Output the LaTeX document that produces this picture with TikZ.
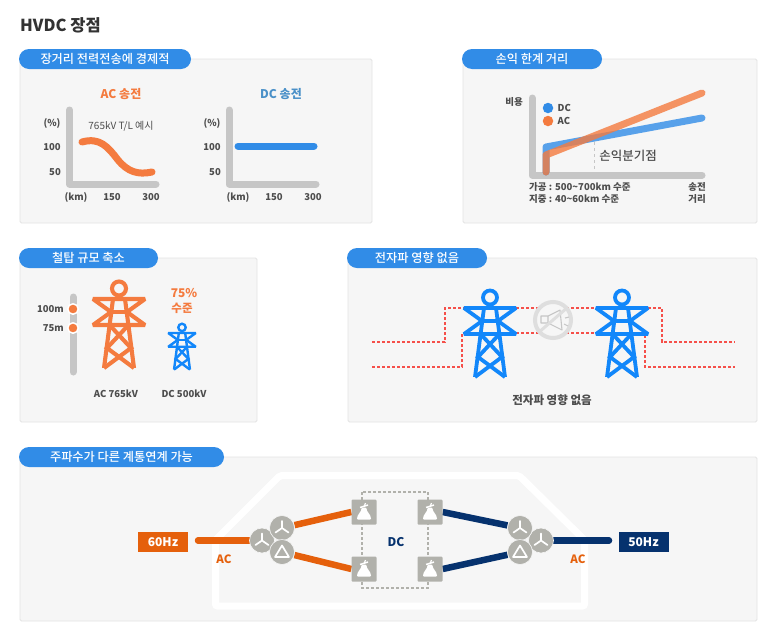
\documentclass[tikz,border=0pt]{standalone}
\usepackage{fontspec}
\setmainfont{Noto Sans CJK KR}
\newfontfamily\medfont{Noto Sans CJK KR Medium}
\usetikzlibrary{positioning}

\definecolor{pillblue}{HTML}{318CE7}
\definecolor{acorange}{HTML}{F47B3F}
\definecolor{dctitle}{HTML}{4A90C8}
\definecolor{towerblue}{HTML}{1287FA}
\definecolor{axisgray}{HTML}{C6C6C6}
\definecolor{paneledge}{HTML}{E4E4E4}
\definecolor{panelfill}{HTML}{F6F6F6}
\definecolor{txtdark}{HTML}{4D4D4D}
\definecolor{busorange}{HTML}{E5600C}
\definecolor{busnavy}{HTML}{06326E}
\definecolor{convgray}{HTML}{B1B1AB}
\definecolor{emfred}{HTML}{F5504A}

\pgfdeclarelayer{bg}
\pgfdeclarelayer{links}
\pgfsetlayers{bg,links,main}

\tikzset{
  panel/.style = {draw=paneledge, fill=panelfill, line width=.8pt, rounded corners=1.5pt, inner sep=0pt},
  pill/.style = {fill=pillblue, text=white, rounded corners=10pt, minimum height=20pt, inner sep=0pt,
    font=\fontsize{12.2}{14}\medfont},
  lab/.style = {text=txtdark, inner sep=0pt, font=\fontsize{9.5}{11}\selectfont\bfseries},
  plain/.style = {text=txtdark, inner sep=0pt, font=\fontsize{10}{12}\selectfont},
  head/.style = {inner sep=0pt, font=\fontsize{12}{14}\selectfont\bfseries},
  axis/.style = {axisgray, line width=7pt, line cap=round, line join=round},
  curve/.style = {line width=7pt, line cap=round, line join=round},
  emf/.style = {emfred, line width=1.5pt, dash pattern=on 3.2pt off 1.8pt},
  freq/.style = {text=white, minimum width=50pt, minimum height=20pt, inner sep=0pt,
    font=\fontsize{12}{14}\selectfont\bfseries},
  bus/.style = {line width=6.5pt, line cap=round},
  xfmr/.style = {circle, fill=convgray, draw=panelfill, line width=.6pt, minimum size=25pt, inner sep=0pt},
  conv/.style = {fill=convgray, rounded corners=1pt, minimum size=25pt, inner sep=0pt},
  hdot/.style = {circle, fill=acorange, draw=white, line width=1.5pt, minimum size=10.5pt, inner sep=0pt},
  tower/.pic = {
    \draw[pic actions] (0,-10.5) circle (7);
    \draw[pic actions, line join=bevel] (-26,0) -- (26,0) -- (8,13) -- (26,26) -- (-26,26) -- (-8,13) -- cycle;
    \draw[pic actions] (-8,13) -- (8,13);
    \draw[pic actions] (-6,0) -- (-15,69);
    \draw[pic actions] (6,0) -- (15,69);
    \draw[pic actions] (-9.5,26) -- (12,49) -- (-15,69);
    \draw[pic actions] (9.5,26) -- (-12,49) -- (15,69);
  },
  wye/.pic = {
    \draw[white, line width=1.7pt, line cap=round] (0,0) -- (0,-7) (0,0) -- (-6.5,4.5) (0,0) -- (6.5,4.5);
  },
  delta/.pic = {
    \draw[white, line width=1.7pt, line join=round] (0,-6.5) -- (7,5) -- (-7,5) -- cycle;
  },
  flask/.pic = {
    \fill[white, rounded corners=1pt] (-7,7.5) -- (7,7.5) .. controls (7,2.5) and (2.5,0) .. (2.5,-4.5)
      -- (-2.5,-4.5) .. controls (-2.5,0) and (-7,2.5) .. (-7,7.5) -- cycle;
    \draw[white, line width=1.5pt] (-4,-4.5) -- (4,-7);
    \draw[white, line width=1.2pt] (0,-5) -- (1.5,-9);
  }
}

\begin{document}
\begin{tikzpicture}[x=1pt, y=-1pt]
  \useasboundingbox (0,0) rectangle (773,643);
  \begin{pgfonlayer}{bg}
    \fill[white] (0,0) rectangle (773,643);
    % panels
    \node[panel, minimum width=352pt, minimum height=164pt] (box1) at (196,141) {};
    \node[panel, minimum width=294pt, minimum height=164pt] (box2) at (610,141) {};
    \node[panel, minimum width=237pt, minimum height=164pt] (box3) at (138.5,340) {};
    \node[panel, minimum width=409pt, minimum height=164pt] (box4) at (552.5,340) {};
    \node[panel, minimum width=737pt, minimum height=164pt] (box5) at (388.5,539) {};
    \draw[white, line width=7pt, rounded corners=2pt] (215.5,540) -- (280,475.5) -- (519,475.5) -- (584.5,540) -- (584.5,606) -- (215.5,606) -- cycle;
    \draw[convgray, line width=1.1pt, dash pattern=on 3pt off 2pt] (362,492) rectangle (428,588);
  \end{pgfonlayer}

  \node[anchor=west, inner sep=0pt, text=black!80, font=\fontsize{16.5}{18}\selectfont\bfseries] (title) at (20,25) {HVDC 장점};

  \node[pill, minimum width=172pt] (tag1) at (105,59) {장거리 전력전송에 경제적};
  \node[pill, minimum width=140pt] (tag2) at (532,59) {손익 한계 거리};
  \node[pill, minimum width=139pt] (tag3) at (88.5,258) {철탑 규모 축소};
  \node[pill, minimum width=140pt] (tag4) at (417,258) {전자파 영향 없음};
  \node[pill, minimum width=205pt] (tag5) at (121.5,457) {주파수가 다른 계통연계 가능};

  % AC and DC charts
  \node[head, text=acorange] (achead) at (121,94) {AC 송전};
  \node[head, text=dctitle] (dchead) at (281,94) {DC 송전};
  \draw[axis] (69.5,110) -- (69.5,184) -- (156,184);
  \draw[axis] (229,110) -- (229,184) -- (316,184);
  \draw[curve, acorange] (82,142) .. controls (100,137) and (108,147) .. (118,160)
    .. controls (128,172) and (138,175) .. (152,172);
  \draw[curve, pillblue] (238,146) -- (314,146);
  \foreach \x/\s in {0/a,160/b} {
    \node[lab] (pct\s) at (52+\x,123) {(\%)};
    \node[lab] (hun\s) at (52+\x,147) {100};
    \node[lab] (fif\s) at (55+\x,172) {50};
  }
  \node[lab] (kma) at (76,197) {(km)};
  \node[lab] (mida) at (112,197) {150};
  \node[lab] (enda) at (151,197) {300};
  \node[lab] (kmb) at (238,197) {(km)};
  \node[lab] (midb) at (274,197) {150};
  \node[lab] (endb) at (313,197) {300};
  \node[plain] (exam) at (121,126) {765kV T/L 예시};

  % break even chart
  \draw[axis] (532,98) -- (532,175) -- (702,175);
  \draw[curve, pillblue, opacity=.8] (546,172) -- (546,147) -- (702,118);
  \draw[curve, acorange, opacity=.8] (546,172) -- (546,155) -- (702,93);
  \draw[axisgray, line width=.9pt, dashed] (594,142) -- (594,172);
  \node[lab] (cost) at (514,102) {비용};
  \node[circle, fill=pillblue, minimum size=10.5pt, inner sep=0pt] (dcdot) at (548,108) {};
  \node[circle, fill=acorange, minimum size=10.5pt, inner sep=0pt] (acdot) at (548,121) {};
  \node[lab, right=4pt of dcdot] {DC};
  \node[lab, right=4pt of acdot] {AC};
  \node[plain, font=\fontsize{12.5}{14}\medfont] (even) at (628,156) {손익분기점};
  \node[lab, anchor=west] (over) at (529,187) {가공 : 500\textasciitilde700km 수준};
  \node[lab, anchor=west] (under) at (529,199) {지중 : 40\textasciitilde60km 수준};
  \node[lab] (sendx) at (697,187) {송전};
  \node[lab] (distx) at (697,199) {거리};

  % tower size
  \draw[axis] (73,297) -- (73,372);
  \node[hdot] (mark1) at (73,309) {};
  \node[hdot] (mark2) at (73,328) {};
  \node[lab, left=3pt of mark1] (h100) {100m};
  \node[lab, left=3pt of mark2] (h75) {75m};
  \pic[draw=acorange, line width=4.1pt] at (119,299) {tower};
  \pic[draw=towerblue, line width=2.4pt, scale=.53] at (182,333) {tower};
  \node[head, text=acorange] (ratio) at (184,293) {75\%};
  \node[head, text=acorange, font=\fontsize{11.5}{15}\selectfont\bfseries] (level) at (182,308) {수준};
  \node[lab] (acv) at (116,394) {AC 765kV};
  \node[lab] (dcv) at (184,394) {DC 500kV};

  % no emf
  \draw[emf] (372,342) -- (445,342) -- (445,308) -- (464,308);
  \draw[emf] (372,367) -- (462,367) -- (462,333) -- (464,333);
  \draw[emf] (516,308) -- (596,308);
  \draw[emf] (516,333) -- (596,333);
  \draw[emf] (648,308) -- (662,308) -- (662,342) -- (735,342);
  \draw[emf] (645,335) -- (645,367) -- (735,367);
  \pic[draw=towerblue, line width=3.8pt] at (490,308) {tower};
  \pic[draw=towerblue, line width=3.8pt] at (622,308) {tower};
  \node[circle, draw=black!13, fill=panelfill, line width=4pt, minimum size=36pt, inner sep=0pt] (mute) at (553,320) {};
  \draw[axisgray, line width=1.1pt, line join=round] (541,316) -- (548,316) -- (560,310) -- (562,330) -- (548,323) -- (541,323) -- cycle
    (548,316) -- (548,323) (565,318) -- (569,317) (564,324) -- (568,326);
  \draw[black!13, line width=3pt] (538,333) -- (568,307);
  \node[head, text=txtdark, font=\fontsize{11.5}{13}\selectfont\bfseries] (nofx) at (552,400) {전자파 영향 없음};

  % back to back link
  \node[freq, fill=busorange] (hz60) at (163,542) {60Hz};
  \node[freq, fill=busnavy] (hz50) at (643.5,542) {50Hz};
  \coordinate (startl) at (198,540.5);
  \coordinate (endr) at (609,540.5);
  \node[xfmr] (wl) at (262,540.5) {};
  \node[xfmr] (yl) at (282,528) {};
  \node[xfmr] (dl) at (282,552) {};
  \node[xfmr] (wr) at (541,540.5) {};
  \node[xfmr] (yr) at (520,528) {};
  \node[xfmr] (dr) at (520,552) {};
  \node[conv] (c1) at (364,512) {};
  \node[conv] (c2) at (364,569) {};
  \node[conv] (c3) at (430,512) {};
  \node[conv] (c4) at (430,569) {};

  \begin{pgfonlayer}{links}
    \draw[bus, busorange] (startl) -- (wl);
    \draw[bus, busnavy] (endr) -- (wr);
    \draw[bus, busorange, line cap=butt] (yl) -- (c1.west);
    \draw[bus, busorange, line cap=butt] (dl) -- (c2.west);
    \draw[bus, busnavy, line cap=butt] (yr) -- (c3.east);
    \draw[bus, busnavy, line cap=butt] (dr) -- (c4.east);
  \end{pgfonlayer}

  \foreach \n in {wl,yl,wr,yr}
    \pic at (\n) {wye};
  \foreach \n in {dl,dr}
    \pic at (\n) {delta};
  \foreach \n in {c1,c2,c3,c4}
    \pic at (\n) {flask};

  \node[head, text=busnavy] (dclab) at (396,542) {DC};
  \node[head, text=busorange, font=\fontsize{11.5}{13}\selectfont\bfseries] (acl) at (224,559) {AC};
  \node[head, text=busorange, font=\fontsize{11.5}{13}\selectfont\bfseries] (acr) at (578,559) {AC};
\end{tikzpicture}
\end{document}
